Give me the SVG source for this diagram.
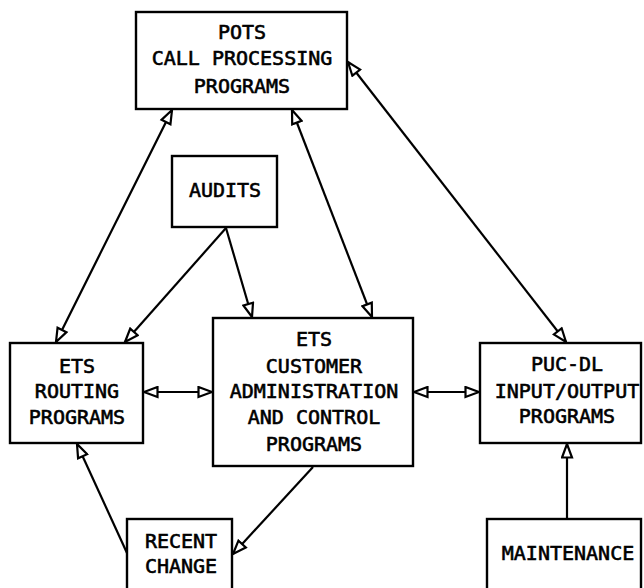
<svg xmlns="http://www.w3.org/2000/svg" width="644" height="588" viewBox="0 0 644 588">
  <defs>
    <style>
      .box { fill: #fff; stroke: #000; stroke-width: 2.4; }
      .lbl { font-family: "DejaVu Sans Mono", "Liberation Mono", monospace; font-size: 20px; fill: #000; stroke: #000; stroke-width: 0.6; text-anchor: middle; }
      .wire { fill: none; stroke: #000; stroke-width: 2.2; }
      .one { marker-end: url(#head); }
      .two { marker-start: url(#head); marker-end: url(#head); }
    </style>
    <!-- open triangular arrowhead -->
    <marker id="head" markerUnits="userSpaceOnUse" viewBox="0 0 16 13" refX="15" refY="6.5" markerWidth="16" markerHeight="13" orient="auto-start-reverse">
      <path d="M1.5,1.5 L15,6.5 L1.5,11.5 Z" fill="#fff" stroke="#000" stroke-width="2.2" stroke-linejoin="miter"/>
    </marker>
  </defs>
  <rect width="644" height="588" fill="#fff"/>

  <g id="connectors">
    <line class="wire two" x1="172" y1="110" x2="56" y2="342"/>
    <line class="wire one" x1="226" y1="228" x2="125" y2="342"/>
    <line class="wire one" x1="226" y1="228" x2="252" y2="317"/>
    <line class="wire two" x1="292" y1="110" x2="372" y2="317"/>
    <line class="wire two" x1="348" y1="62" x2="566" y2="342"/>
    <line class="wire two" x1="144" y1="392" x2="212" y2="392"/>
    <line class="wire two" x1="414" y1="392" x2="479" y2="392"/>
    <line class="wire one" x1="313" y1="467" x2="233" y2="554"/>
    <line class="wire one" x1="127" y1="553" x2="77" y2="444"/>
    <line class="wire one" x1="567" y1="519" x2="567" y2="444"/>
  </g>

  <g id="pots">
    <rect class="box" x="136" y="12" width="211" height="97"/>
    <text class="lbl" x="242" y="39">POTS</text>
    <text class="lbl" x="242" y="65">CALL PROCESSING</text>
    <text class="lbl" x="242" y="93">PROGRAMS</text>
  </g>

  <g id="audits">
    <rect class="box" x="172" y="156" width="105" height="71"/>
    <text class="lbl" x="225" y="197">AUDITS</text>
  </g>

  <g id="routing">
    <rect class="box" x="10" y="343" width="133" height="100"/>
    <text class="lbl" x="77" y="373">ETS</text>
    <text class="lbl" x="77" y="398">ROUTING</text>
    <text class="lbl" x="77" y="424">PROGRAMS</text>
  </g>

  <g id="customer">
    <rect class="box" x="213" y="318" width="200" height="148"/>
    <text class="lbl" x="314" y="346">ETS</text>
    <text class="lbl" x="314" y="373">CUSTOMER</text>
    <text class="lbl" x="314" y="398">ADMINISTRATION</text>
    <text class="lbl" x="314" y="424">AND CONTROL</text>
    <text class="lbl" x="314" y="451">PROGRAMS</text>
  </g>

  <g id="pucdl">
    <rect class="box" x="480" y="343" width="161" height="100"/>
    <text class="lbl" x="567" y="371">PUC-DL</text>
    <text class="lbl" x="567" y="398">INPUT/OUTPUT</text>
    <text class="lbl" x="567" y="423">PROGRAMS</text>
  </g>

  <g id="recent-change">
    <rect class="box" x="127" y="519" width="105" height="80"/>
    <text class="lbl" x="181" y="548">RECENT</text>
    <text class="lbl" x="181" y="573">CHANGE</text>
  </g>

  <g id="maintenance">
    <rect class="box" x="487" y="519" width="154" height="80"/>
    <text class="lbl" x="568" y="560">MAINTENANCE</text>
  </g>
</svg>
